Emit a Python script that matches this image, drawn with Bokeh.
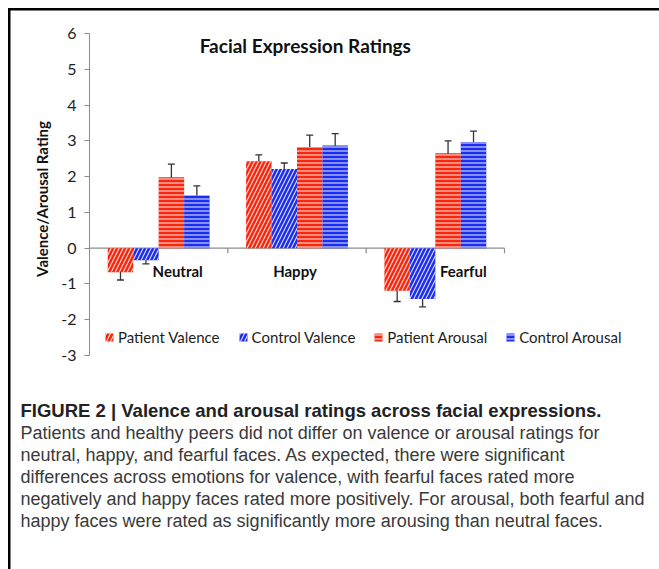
from bokeh.plotting import figure
from bokeh.models import (ColumnDataSource, Range1d, Whisker, TeeHead, Legend,
                          LegendItem, Label, Title, FixedTicker, PrintfTickFormatter)
from bokeh.core.properties import value
from bokeh.embed import file_html
from bokeh.resources import INLINE

# ---------------- data ----------------
categories = ["Neutral", "Happy", "Fearful"]
series_names = ["Patient Valence", "Control Valence", "Patient Arousal", "Control Arousal"]
patient_valence = [-0.67, 2.43, -1.19]
control_valence = [-0.34, 2.21, -1.42]
patient_arousal = [1.98, 2.83, 2.65]
control_arousal = [1.47, 2.87, 2.97]
patient_valence_err = [0.22, 0.18, 0.30]
control_valence_err = [0.10, 0.17, 0.22]
patient_arousal_err = [0.37, 0.33, 0.35]
control_arousal_err = [0.27, 0.33, 0.30]
y_ticks = [-3, -2, -1, 0, 1, 2, 3, 4, 5, 6]

title_text = "Facial Expression Ratings"
y_label = "Valence/Arousal Rating"
caption_title = "FIGURE 2 | Valence and arousal ratings across facial expressions."
caption_lines = [
    "Patients and healthy peers did not differ on valence or arousal ratings for",
    "neutral, happy, and fearful faces. As expected, there were significant",
    "differences across emotions for valence, with fearful faces rated more",
    "negatively and happy faces rated more positively. For arousal, both fearful and",
    "happy faces were rated as significantly more arousing than neutral faces.",
]

# ---------------- layout / style ----------------
W, H = 659, 569
FRAME_LEFT = 89          # y-axis position (px)
FRAME_BOTTOM = 397       # bottom of the plotting frame (px from top)
AXIS_TOP, AXIS_BOTTOM = 33, 355   # pixel rows of the top / bottom y tick
CAT_AXIS_PX = 415        # pixel length of the category axis
LEGEND_BOTTOM = 346
RED = "#f7270d"
BLUE = "#1b2ef0"
AXIS_GRAY = "#8c8c8c"
ERR = "#333333"
FONT = "Lato"
CAP_FONT = "Liberation Sans"

n = len(categories)
ppu = (AXIS_BOTTOM - AXIS_TOP) / (y_ticks[-1] - y_ticks[0])
y_end = y_ticks[-1] + AXIS_TOP / ppu
y_start = y_ticks[0] - (FRAME_BOTTOM - AXIS_BOTTOM) / ppu
x_end = n * (W - FRAME_LEFT) / CAT_AXIS_PX

p = figure(width=W, height=H, x_range=Range1d(0, x_end),
           y_range=Range1d(y_start, y_end), x_axis_type=None,
           output_backend="svg", toolbar_location=None,
           min_border_left=FRAME_LEFT, min_border_right=0,
           min_border_top=0, min_border_bottom=H - FRAME_BOTTOM)
p.outline_line_color = None
p.ygrid.visible = False
p.background_fill_color = None
p.border_fill_color = None
p.styles = {
    "background-color": "white",
    "background-image": "linear-gradient(#000, #000), linear-gradient(#000, #000)",
    "background-size": "100% 2.5px, 2.5px 100%",
    "background-position": "8px 8px, 8px 8px",
    "background-repeat": "no-repeat",
}

ax = p.yaxis[0]
ax.bounds = (y_ticks[0], y_ticks[-1])
ax.ticker = FixedTicker(ticks=y_ticks)
ax.formatter = PrintfTickFormatter(format="%d")
ax.axis_line_color = AXIS_GRAY
ax.major_tick_line_color = AXIS_GRAY
ax.major_tick_out = 5
ax.major_tick_in = 0
ax.minor_tick_line_color = None
ax.major_label_text_font = FONT
ax.major_label_text_font_size = "16px"
ax.major_label_text_color = "#1e1e1e"
ax.major_label_standoff = 8
ax.axis_label = y_label
ax.axis_label_text_font = FONT
ax.axis_label_text_font_style = "bold"
ax.axis_label_text_font_size = "15px"
ax.axis_label_text_color = "#111111"
ax.axis_label_standoff = 7

# horizontal category axis at zero
p.segment(x0=[0], y0=[0], x1=[n], y1=[0], line_color=AXIS_GRAY, line_width=1.2)
bounds = list(range(1, n + 1))
p.segment(x0=bounds, y0=[0] * n, x1=bounds, y1=[-0.14] * n,
          line_color=AXIS_GRAY, line_width=1.2)

x_centers = [i + 0.5 for i in range(n)]
bar_w = 0.184

series = [
    (patient_valence, patient_valence_err, RED, "/", 8),
    (control_valence, control_valence_err, BLUE, "/", 8),
    (patient_arousal, patient_arousal_err, RED, "-", 4),
    (control_arousal, control_arousal_err, BLUE, "-", 4),
]

items = []
for k, (vals, errs, color, hatch, hscale) in enumerate(series):
    off = (k - 1.5) * bar_w
    src = ColumnDataSource(dict(
        x=[c + off for c in x_centers],
        top=vals,
        upper=[v + e for v, e in zip(vals, errs)],
        lower=[v - e for v, e in zip(vals, errs)],
    ))
    r = p.vbar(x="x", top="top", bottom=0, width=bar_w, source=src,
               fill_color=color, line_color=None,
               hatch_pattern=hatch, hatch_color="white", hatch_alpha=0.85,
               hatch_scale=hscale, hatch_weight=1.1)
    w = Whisker(base="x", upper="upper", lower="lower", source=src,
                line_color=ERR, line_width=1.3,
                upper_head=TeeHead(size=7, line_color=ERR, line_width=1.3),
                lower_head=TeeHead(size=7, line_color=ERR, line_width=1.3))
    p.add_layout(w)
    items.append(LegendItem(label=series_names[k], renderers=[r]))

# category labels
p.text(x=x_centers, y=[-0.63] * n, text=categories, x_offset=[19, -2, 28],
       text_align="center", text_baseline="middle", text_font=value(FONT),
       text_font_style="bold", text_font_size="15px", text_color="#111111")

# chart title
p.add_layout(Label(x=1.56, y=5.66, text=title_text, text_align="center",
                   text_baseline="middle", text_font=FONT, text_font_style="bold",
                   text_font_size="19px", text_color="#111111"))

legend = Legend(items=items, location=(15, FRAME_BOTTOM - LEGEND_BOTTOM),
                orientation="horizontal",
                padding=0, margin=0, spacing=18, glyph_width=10, glyph_height=10,
                label_standoff=4, label_text_font=FONT, label_text_font_size="15px",
                label_height=14, label_text_color="#1e1e1e",
                border_line_color=None, background_fill_alpha=0)
p.add_layout(legend)

# caption below the chart
cap_offset = 20 - FRAME_LEFT
p.add_layout(Title(text=caption_title, align="left", offset=cap_offset, standoff=0,
                   text_font=CAP_FONT, text_font_style="bold", text_font_size="18.5px",
                   text_color="#222222"), "below")
for line in caption_lines:
    p.add_layout(Title(text=line, align="left", offset=cap_offset, standoff=0,
                       text_font=CAP_FONT, text_font_style="normal",
                       text_font_size="18px", text_color="#3a3a3a"), "below")

open("out.html", "w").write(file_html(p, INLINE))
